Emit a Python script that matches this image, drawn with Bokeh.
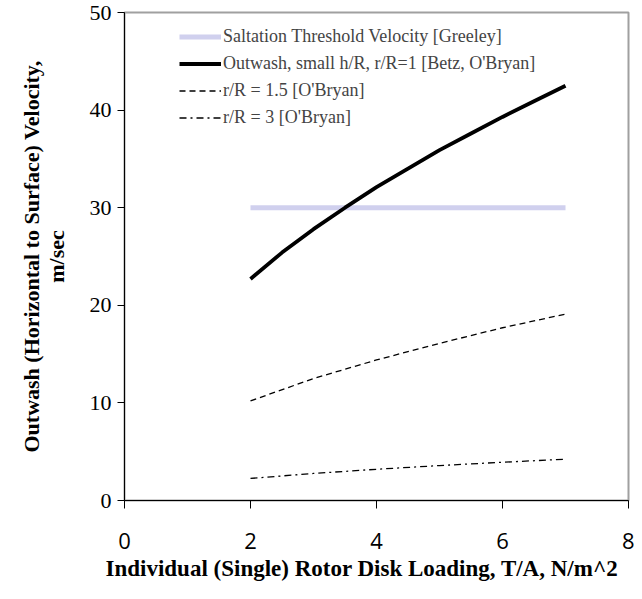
from bokeh.plotting import figure
from bokeh.models import Legend, LegendItem, Range1d, FixedTicker, Title
from bokeh.embed import file_html
from bokeh.resources import INLINE

# data
disk_loading = [2, 2.5, 3, 3.5, 4, 4.5, 5, 5.5, 6, 6.5, 7]
outwash_r1 = [22.7, 25.4, 27.8, 30.0, 32.1, 34.0, 35.9, 37.6, 39.3, 40.9, 42.5]
disk_loading_b = [2, 3, 4, 5, 6, 7]
outwash_r15 = [10.2, 12.5, 14.4, 16.1, 17.7, 19.1]
outwash_r3 = [2.26, 2.77, 3.2, 3.58, 3.92, 4.23]
threshold_x = [2, 7]
threshold_y = [30, 30]

x_ticks = [0, 2, 4, 6, 8]
y_ticks = [0, 10, 20, 30, 40, 50]

p = figure(width=634, height=591, output_backend="svg", toolbar_location=None,
           x_range=Range1d(0, 8), y_range=Range1d(0, 50),
           min_border_left=124, min_border_right=6, min_border_top=12, min_border_bottom=91)
p.xgrid.visible = False
p.ygrid.visible = False
p.outline_line_color = "#a0a0a0"
p.outline_line_width = 2
p.background_fill_color = "white"

r_th = p.line(threshold_x, threshold_y, line_color="#d0d0ee", line_width=5)
r1 = p.line(disk_loading, outwash_r1, line_color="black", line_width=3.8)
r15 = p.line(disk_loading_b, outwash_r15, line_color="black", line_width=1.3, line_dash="6 4")
r3 = p.line(disk_loading_b, outwash_r3, line_color="black", line_width=1.3, line_dash="7 4 2 4")

legend = Legend(items=[
    LegendItem(label="Saltation Threshold Velocity [Greeley]", renderers=[r_th]),
    LegendItem(label="Outwash, small h/R, r/R=1 [Betz, O'Bryan]", renderers=[r1]),
    LegendItem(label="r/R = 1.5 [O'Bryan]", renderers=[r15]),
    LegendItem(label="r/R = 3 [O'Bryan]", renderers=[r3]),
], location=(55, 372), padding=0, margin=0, spacing=6,
    label_height=21, glyph_height=21, glyph_width=42, label_standoff=2,
    border_line_alpha=0, background_fill_alpha=0,
    label_text_font="Liberation Serif", label_text_font_size="18px")
p.add_layout(legend)

p.xaxis.ticker = FixedTicker(ticks=x_ticks)
p.yaxis.ticker = FixedTicker(ticks=y_ticks)
for ax in (p.xaxis, p.yaxis):
    ax.minor_tick_line_color = None
    ax.major_tick_in = 0
    ax.axis_line_color = "black"
    ax.major_tick_line_color = "black"
    ax.axis_label_text_font_style = "bold"
    ax.axis_label_text_font = "Liberation Serif"
    ax.axis_label_text_font_size = "22px"
    ax.axis_label_text_color = "black"
    ax.major_label_text_color = "black"

p.xaxis.major_tick_out = 8
p.xaxis.major_label_text_font = "Open Sans"
p.xaxis.major_label_text_font_size = "22px"
p.xaxis.major_label_standoff = 24

p.yaxis.major_tick_out = 7
p.yaxis.major_label_text_font = "Liberation Serif"
p.yaxis.major_label_text_font_size = "22px"
p.yaxis.major_label_standoff = 6
p.yaxis.axis_label = "Outwash (Horizontal to Surface) Velocity,\nm/sec"
p.yaxis.axis_label_standoff = 18
p.yaxis.axis_label_text_line_height = 1.0

xtitle = Title(text="Individual (Single) Rotor Disk Loading, T/A, N/m^2", align="left",
               offset=-19, text_font="Liberation Serif", text_font_size="23px",
               text_font_style="bold", text_color="black", standoff=4)
p.add_layout(xtitle, "below")

open("out.html", "w").write(file_html(p, INLINE))
